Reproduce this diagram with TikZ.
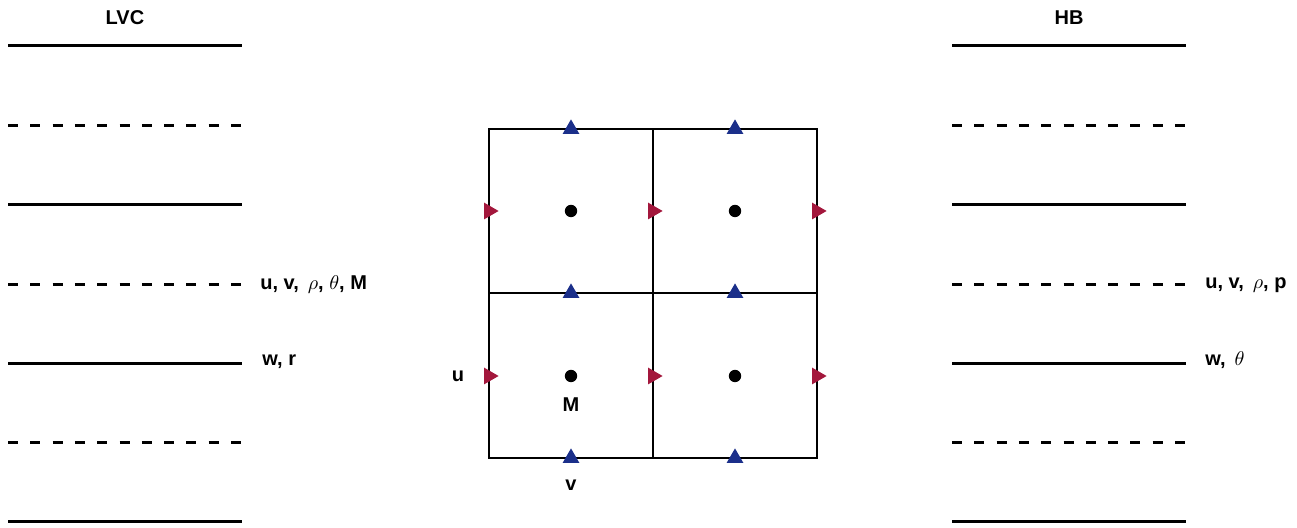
\documentclass[tikz,border=0pt]{standalone}
\usepackage{fontspec}
\setmainfont{Liberation Sans}
\usepackage{tikz}
\usetikzlibrary{shapes.geometric}
\definecolor{UMark}{HTML}{A3173C}
\definecolor{VMark}{HTML}{1B2F8A}

\tikzset{
  lev/.style={line width=1.5pt},
  halflev/.style={line width=1.5pt,dash pattern=on 5pt off 6.15pt},
  cell/.style={line width=1.2pt},
  lab/.style={font=\fontsize{10}{12}\selectfont\bfseries,inner sep=0pt},
  umark/.style={regular polygon,regular polygon sides=3,rotate=-90,
    fill=UMark,minimum size=9.6pt,inner sep=0pt},
  vmark/.style={regular polygon,regular polygon sides=3,
    fill=VMark,minimum size=9.6pt,inner sep=0pt},
  mass/.style={circle,fill=black,minimum size=6.2pt,inner sep=0pt},
}

\begin{document}
\begin{tikzpicture}[x=0.5pt,y=-0.5pt]
  \useasboundingbox (0,0) rectangle (1297,528);

  % --- Left and right: vertical levels ---
  \node[lab] (lvc) at (125,18) {LVC};
  \node[lab] (hb)  at (1069,18) {HB};
  \foreach \yy/\sty in {46/lev,126/halflev,205/lev,285/halflev,364/lev,443/halflev,522/lev}{
    \draw[\sty] (8,\yy) -- (242,\yy);
    \draw[\sty] (952,\yy) -- (1186,\yy);
  }
  \node[lab,anchor=west] (lvchalf) at (260,285) {u, v, \,$\rho$, $\theta$, M};
  \node[lab,anchor=west] (lvcfull) at (262,362) {w, r};
  \node[lab,anchor=west] (hbhalf)  at (1205,285) {u, v, \,$\rho$, p};
  \node[lab,anchor=west] (hbfull)  at (1205,360) {w, \,$\theta$};

  % --- Centre: staggered grid ---
  \draw[cell] (489,129) rectangle (817,458);
  \draw[cell] (653,129) -- (653,458);
  \draw[cell] (489,293) -- (817,293);
  % mass points
  \foreach \xx in {571,735}
    \foreach \yy in {211,376}
      \node[mass] (m-\xx-\yy) at (\xx,\yy) {};
  % u points (red)
  \foreach \xx in {489,653,817}
    \foreach \yy in {211,376}
      \node[umark] (u-\xx-\yy) at (\xx,\yy) {};
  % v points (blue)
  \foreach \xx in {571,735}
    \foreach \yy in {129,293,458}
      \node[vmark] (v-\xx-\yy) at (\xx,\yy) {};
  % point labels
  \node[lab] (ulab) at (458,376) {u};
  \node[lab] (mlab) at (571,405) {M};
  \node[lab] (vlab) at (571,485) {v};
\end{tikzpicture}
\end{document}
